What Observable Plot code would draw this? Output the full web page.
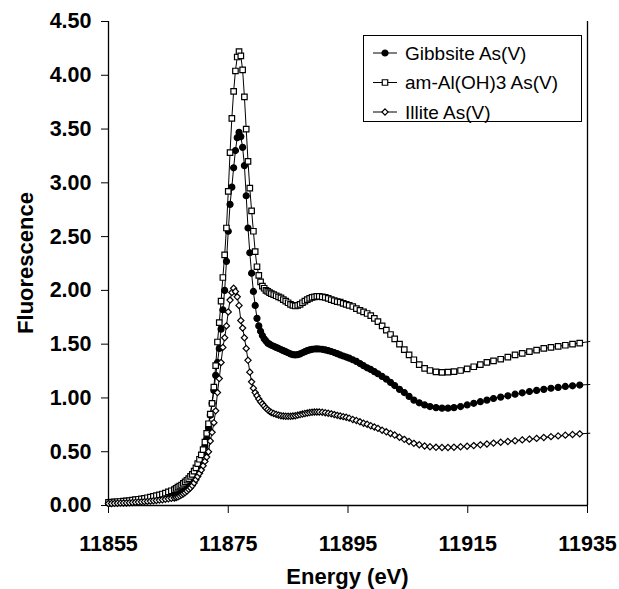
<!DOCTYPE html>
<html><head><meta charset="utf-8">
<script src="https://cdn.jsdelivr.net/npm/d3@7"></script>
<script src="https://cdn.jsdelivr.net/npm/@observablehq/plot@0.6"></script>
<style>
body{margin:0;background:#fff}
#chart{position:relative;width:619px;height:589px}
</style>
</head><body><div id="chart"></div>
<script>
const energy = [
  11855, 11855.5, 11856, 11856.5, 11857, 11857.5, 11858, 11858.5, 11859, 11859.5, 11860, 11860.5,
  11861, 11861.5, 11862, 11862.5, 11863, 11863.5, 11864, 11864.5, 11865, 11865.5, 11866,
  11866.3, 11866.6, 11866.9, 11867.2, 11867.5, 11867.8, 11868.1, 11868.4, 11868.7,
  11869.0, 11869.3, 11869.6, 11869.9, 11870.2, 11870.5, 11870.8, 11871.1, 11871.4,
  11871.7, 11872.0, 11872.3, 11872.6, 11872.9, 11873.2, 11873.5, 11873.8, 11874.1,
  11874.4, 11874.7, 11875.0, 11875.3, 11875.6, 11875.9, 11876.2, 11876.5, 11876.8,
  11877.1, 11877.4, 11877.7, 11878.0, 11878.3, 11878.6, 11878.9, 11879.2, 11879.5,
  11879.8, 11880.1, 11880.4, 11880.7, 11881.0, 11881.3, 11881.6, 11881.9, 11882.2,
  11882.6, 11883.0, 11883.4, 11883.8, 11884.2, 11884.6, 11885.0, 11885.4, 11885.8, 11886.2,
  11886.6, 11887.0, 11887.4, 11887.8, 11888.2, 11888.6, 11889.0, 11889.4, 11889.8, 11890.2,
  11890.7, 11891.2, 11891.7, 11892.2, 11892.7, 11893.2, 11893.7, 11894.2, 11894.7, 11895.2,
  11895.8, 11896.4, 11897.0, 11897.6, 11898.2, 11898.8, 11899.4, 11900.0,
  11900.7, 11901.4, 11902.1, 11902.8, 11903.6, 11904.4, 11905.2,
  11906.0, 11906.9, 11907.8, 11908.7, 11909.7, 11910.7, 11911.7, 11912.7,
  11913.8, 11914.9, 11916.0, 11917.1, 11918.2, 11919.3,
  11920.5, 11921.7, 11922.9, 11924.1, 11925.3, 11926.5, 11927.7, 11928.9, 11930.1, 11931.3, 11932.5, 11933.7,
  11935.4
];

const gibbsite = [
  0.022, 0.023, 0.025, 0.027, 0.029, 0.031, 0.033, 0.036, 0.039, 0.042, 0.045, 0.049,
  0.053, 0.057, 0.062, 0.067, 0.072, 0.078, 0.084, 0.091, 0.098, 0.105, 0.113,
  0.12, 0.13, 0.14, 0.15, 0.16, 0.175, 0.19, 0.20, 0.22,
  0.24, 0.27, 0.30, 0.33, 0.36, 0.41, 0.48, 0.55, 0.62,
  0.72, 0.84, 0.95, 1.07, 1.21, 1.33, 1.46, 1.64, 1.82,
  2.00, 2.27, 2.55, 2.80, 2.96, 3.14, 3.30, 3.42, 3.47,
  3.43, 3.33, 3.16, 2.88, 2.58, 2.35, 2.16, 1.99, 1.86,
  1.74, 1.67, 1.62, 1.58, 1.55, 1.53, 1.51, 1.50, 1.49,
  1.48, 1.47, 1.46, 1.45, 1.44, 1.43, 1.42, 1.41, 1.403, 1.40,
  1.403, 1.41, 1.42, 1.43, 1.44, 1.447, 1.452, 1.455, 1.456, 1.455,
  1.452, 1.447, 1.44, 1.432, 1.422, 1.412, 1.40, 1.39, 1.38, 1.37,
  1.355, 1.34, 1.32, 1.30, 1.28, 1.265, 1.245, 1.225,
  1.20, 1.175, 1.145, 1.115, 1.08, 1.05, 1.015,
  0.98, 0.955, 0.935, 0.92, 0.91, 0.905, 0.905, 0.91,
  0.92, 0.935, 0.95, 0.965, 0.98, 0.995,
  1.008, 1.02, 1.035, 1.048, 1.06, 1.07, 1.08, 1.09, 1.098, 1.107, 1.113, 1.12,
  1.125
];

const amAlOH3 = [
  0.030, 0.031, 0.033, 0.035, 0.037, 0.040, 0.043, 0.046, 0.050, 0.054, 0.058, 0.062,
  0.067, 0.072, 0.078, 0.084, 0.091, 0.099, 0.107, 0.116, 0.126, 0.137, 0.148,
  0.16, 0.17, 0.18, 0.19, 0.205, 0.22, 0.235, 0.25, 0.27,
  0.29, 0.32, 0.35, 0.39, 0.43, 0.47, 0.52, 0.59, 0.67,
  0.76, 0.85, 0.95, 1.10, 1.30, 1.52, 1.70, 1.90, 2.12,
  2.33, 2.58, 2.92, 3.28, 3.60, 3.85, 4.04, 4.17, 4.22,
  4.18, 4.05, 3.80, 3.50, 3.20, 2.95, 2.74, 2.55, 2.36,
  2.22, 2.14, 2.08, 2.04, 2.02, 2.00, 1.99, 1.98, 1.97,
  1.96, 1.95, 1.94, 1.93, 1.915, 1.90, 1.885, 1.87, 1.86, 1.855,
  1.86, 1.87, 1.885, 1.90, 1.915, 1.925, 1.935, 1.94, 1.945, 1.945,
  1.94, 1.935, 1.925, 1.915, 1.905, 1.895, 1.89, 1.88, 1.87, 1.86,
  1.85, 1.83, 1.815, 1.80, 1.785, 1.765, 1.74, 1.71,
  1.67, 1.63, 1.59, 1.55, 1.50, 1.45, 1.40,
  1.355, 1.31, 1.275, 1.255, 1.243, 1.238, 1.24, 1.245,
  1.255, 1.27, 1.29, 1.31, 1.33, 1.345,
  1.36, 1.38, 1.40, 1.415, 1.43, 1.445, 1.46, 1.47, 1.48, 1.49, 1.50, 1.51,
  1.525
];

const illite = [
  0.018, 0.019, 0.020, 0.021, 0.022, 0.023, 0.024, 0.026, 0.028, 0.030, 0.032, 0.034,
  0.036, 0.038, 0.041, 0.044, 0.047, 0.050, 0.054, 0.058, 0.062, 0.066, 0.070,
  0.075, 0.08, 0.09, 0.10, 0.11, 0.12, 0.135, 0.15, 0.165,
  0.185, 0.21, 0.24, 0.27, 0.30, 0.33, 0.37, 0.41, 0.45,
  0.50, 0.60, 0.68, 0.77, 0.88, 1.05, 1.18, 1.33, 1.47,
  1.56, 1.67, 1.80, 1.91, 1.98, 2.02, 1.99, 1.94, 1.86,
  1.72, 1.65, 1.56, 1.46, 1.35, 1.24, 1.15, 1.09, 1.05,
  1.02, 0.99, 0.965, 0.945, 0.925, 0.905, 0.89, 0.875, 0.865,
  0.855, 0.847, 0.84, 0.835, 0.832, 0.83, 0.83, 0.83, 0.832, 0.835,
  0.84, 0.845, 0.85, 0.855, 0.86, 0.864, 0.867, 0.869, 0.87, 0.869,
  0.867, 0.863, 0.858, 0.852, 0.845, 0.838, 0.832, 0.826, 0.82, 0.812,
  0.80, 0.79, 0.778, 0.765, 0.755, 0.742, 0.73, 0.717,
  0.70, 0.685, 0.67, 0.655, 0.635, 0.615, 0.595,
  0.578, 0.565, 0.553, 0.546, 0.541, 0.539, 0.539, 0.542,
  0.546, 0.551, 0.557, 0.564, 0.572, 0.58,
  0.588, 0.595, 0.602, 0.61, 0.617, 0.624, 0.632, 0.64, 0.647, 0.654, 0.66, 0.666,
  0.672
];

const seriesNames = ["Gibbsite As(V)", "am-Al(OH)3 As(V)", "Illite As(V)"];
const xTicks = [11855, 11875, 11895, 11915, 11935];
const yTicks = [0, 0.5, 1.0, 1.5, 2.0, 2.5, 3.0, 3.5, 4.0, 4.5];
const xLabel = "Energy (eV)";
const yLabel = "Fluorescence";

const seriesValues = [gibbsite, amAlOH3, illite];
const symbolFor = {"Gibbsite As(V)": "circle", "am-Al(OH)3 As(V)": "square", "Illite As(V)": "diamond2"};
const fillFor = {"Gibbsite As(V)": "black", "am-Al(OH)3 As(V)": "white", "Illite As(V)": "white"};
const rFor = {"Gibbsite As(V)": 3.0, "am-Al(OH)3 As(V)": 3.1, "Illite As(V)": 2.8};

const xMin = xTicks[0], xMax = xTicks[xTicks.length - 1];

const marks = [];
seriesNames.forEach((name, s) => {
  const rows = energy.map((e, i) => ({energy: e, value: seriesValues[s][i]}));
  marks.push(Plot.line(rows, {x: "energy", y: "value", stroke: "black", strokeWidth: 1}));
  marks.push(Plot.dot(rows.filter(d => d.energy <= xMax), {
    x: "energy", y: "value", symbol: () => symbolFor[name], r: rFor[name],
    fill: fillFor[name], stroke: "black", strokeWidth: 1.2
  }));
});

const font = "'Liberation Sans', Arial, Helvetica, sans-serif";

const chart = Plot.plot({
  width: 619,
  height: 589,
  marginLeft: 108,
  marginRight: 32,
  marginTop: 21,
  marginBottom: 84,
  style: {fontFamily: font, background: "white", color: "black"},
  x: {domain: [xMin, xMax]},
  y: {domain: [0, 4.5]},
  symbol: {type: "identity"},
  marks: [
    Plot.axisY({ticks: yTicks, tickFormat: d3.format(".2f"), tickSize: 7, tickPadding: 10,
      fontSize: 21.5, fontWeight: "bold", label: null}),
    Plot.axisX({ticks: xTicks, tickFormat: d => String(d), tickSize: 8, tickPadding: 22,
      fontSize: 21.5, fontWeight: "bold", label: null}),
    Plot.ruleX([xMin, xMax], {stroke: "black", strokeWidth: 1.3}),
    Plot.ruleY([0], {stroke: "black", strokeWidth: 1.3}),
    ...marks
  ]
});

document.getElementById("chart").appendChild(chart);

// Axis titles and legend
const svg = d3.select(chart);
svg.append("text")
  .attr("transform", "translate(33,263) rotate(-90)")
  .attr("text-anchor", "middle")
  .attr("font-family", font).attr("font-size", 22).attr("font-weight", "bold")
  .attr("fill", "black")
  .text(yLabel);
svg.append("text")
  .attr("x", 347.5).attr("y", 584)
  .attr("text-anchor", "middle")
  .attr("font-family", font).attr("font-size", 22).attr("font-weight", "bold")
  .attr("fill", "black")
  .text(xLabel);

const lg = svg.append("g");
lg.append("rect").attr("x", 363.5).attr("y", 35.5).attr("width", 218).attr("height", 86)
  .attr("fill", "white").attr("stroke", "black").attr("stroke-width", 1);
const symMap = {circle: d3.symbolCircle, square: d3.symbolSquare, diamond2: d3.symbolDiamond2};
seriesNames.forEach((name, i) => {
  const cy = 53 + i * 29.5;
  lg.append("line").attr("x1", 373).attr("x2", 397).attr("y1", cy).attr("y2", cy)
    .attr("stroke", "black").attr("stroke-width", 1);
  const r = rFor[name];
  lg.append("path")
    .attr("d", d3.symbol(symMap[symbolFor[name]], Math.PI * r * r)())
    .attr("transform", `translate(385,${cy})`)
    .attr("fill", fillFor[name]).attr("stroke", "black").attr("stroke-width", 1.2);
  lg.append("text").attr("x", 405).attr("y", cy + 6.8)
    .attr("text-anchor", "start")
    .attr("font-family", font).attr("font-size", 19).attr("fill", "black")
    .text(name);
});
</script>
</body></html>
